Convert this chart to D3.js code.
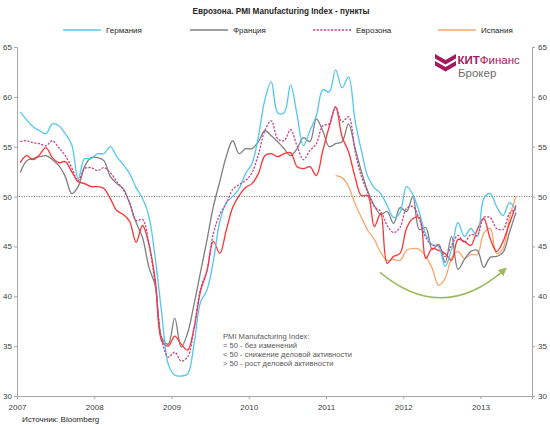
<!DOCTYPE html>
<html><head><meta charset="utf-8">
<script src="https://cdn.jsdelivr.net/npm/d3@7/dist/d3.min.js"></script>
<style>
html,body{margin:0;padding:0;background:#fff;}
svg{display:block;font-family:"Liberation Sans",Arial,sans-serif;}
</style></head>
<body>
<svg id="chart" width="550" height="425"></svg>
<script>
// ---- data: monthly PMI, Jan 2007 .. Jun 2013 (78 months) ----
const yearLabels = ["2007","2008","2009","2010","2011","2012","2013"];
const yTicks = [30,35,40,45,50,55,60,65];
const germany = [58.5,57.7,57.0,56.6,56.3,57.3,57.1,56.3,55.2,51.8,
  53.8,53.8,54.3,54.3,55.0,54.0,53.2,52.3,50.9,49.8,
  48.0,43.7,38.2,33.2,32.1,32.0,32.2,35.2,39.4,40.6,
  43.5,47.5,49.4,50.0,50.8,52.3,53.3,56.0,59.7,61.5,
  58.4,58.4,61.2,58.2,55.1,56.6,58.1,60.7,60.5,62.7,
  60.9,62.0,57.7,54.6,52.0,50.9,50.3,49.1,47.9,48.4,
  51.0,50.2,48.4,46.2,45.2,45.0,43.0,44.7,47.4,46.0,
  46.8,46.0,49.8,50.3,49.0,48.1,49.4,48.6];
const france = [52.4,53.6,53.8,54.0,54.1,53.7,53.1,52.0,50.3,51.0,
  53.0,53.9,53.9,53.6,52.0,51.3,50.8,49.3,47.4,45.9,
  42.9,41.0,35.8,35.2,37.8,34.9,36.3,39.2,42.4,45.6,
  49.0,51.5,54.0,55.6,54.3,54.8,54.8,55.5,56.6,56.1,
  55.5,54.8,54.1,54.8,55.9,55.5,57.8,56.6,55.0,55.3,
  55.5,57.3,54.9,52.5,50.5,49.1,48.2,48.5,47.3,48.9,
  48.5,50.0,46.7,46.9,44.7,45.2,43.4,46.0,42.7,43.7,
  44.5,44.6,42.9,43.9,44.0,44.4,46.4,48.4];
const eurozone = [55.5,55.6,55.4,55.3,55.1,55.6,54.9,54.1,52.9,51.6,
  52.8,52.9,52.6,52.9,52.4,51.5,50.7,49.4,47.6,47.7,
  45.2,41.1,35.6,33.9,34.4,33.5,33.9,36.8,40.7,42.6,
  46.3,48.2,49.3,50.7,51.2,51.6,52.4,54.2,56.6,57.6,
  55.8,55.6,56.7,55.1,53.7,54.6,55.3,57.1,57.3,59.0,
  57.5,58.0,54.6,52.0,50.4,49.0,48.5,47.1,46.4,46.9,
  48.8,49.0,47.7,45.9,45.1,45.1,44.0,45.1,46.1,45.4,
  46.2,46.1,47.9,47.9,46.8,46.7,48.3,48.8];
const italy = [53.4,54.1,53.7,54.2,54.9,53.9,53.4,53.5,52.5,51.5,
  51.3,51.0,51.0,50.8,49.8,48.6,48.2,47.5,45.4,47.1,
  45.2,41.5,35.5,35.0,36.0,35.2,34.6,36.8,40.5,42.5,
  45.5,44.3,46.6,48.9,50.1,50.9,51.3,52.3,54.1,54.3,
  54.0,54.3,54.4,53.0,52.8,53.0,52.1,54.6,57.0,59.0,
  56.0,54.5,52.0,50.1,50.1,47.0,48.3,43.3,44.0,44.3,
  46.8,47.8,47.9,43.8,44.8,44.6,44.3,43.6,45.7,45.5,
  45.1,46.7,47.8,45.8,44.5,45.5,47.3,49.1];
const spain = [null,null,null,null,null,null,null,null,null,null,
  null,null,null,null,null,null,null,null,null,null,
  null,null,null,null,null,null,null,null,null,null,
  null,null,null,null,null,null,null,null,null,null,
  null,null,null,null,null,null,null,null,null,52.1,
  51.9,51.0,49.3,47.9,46.6,45.7,44.4,43.6,43.7,43.6,
  44.6,44.8,44.7,44.0,42.8,41.1,41.8,43.8,44.5,43.8,
  44.2,44.2,46.3,46.8,44.3,44.8,47.9,50.0];
const legendNames = ["Германия","Франция","Еврозона","Испания"];
const noteLines = ["PMI Manufacturing Index:","= 50 - без изменений","< 50 - снижение деловой активности","> 50 - рост деловой активности"];

const svg = d3.select("#chart");
const L = 17, R = 532, T = 47, B = 396;
const nSlots = 80;
const x = d3.scaleLinear().domain([0, nSlots]).range([L, R]);
const y = d3.scaleLinear().domain([30, 65]).range([B, T]);
const axisColor = "#a6a6a6", textColor = "#404040";
const font = 8;

// Title
svg.append("text").attr("x", 281).attr("y", 14).attr("text-anchor","middle")
  .attr("font-size", 8.2).attr("font-weight","bold").attr("fill","#262626")
  .text("Еврозона. PMI Manufacturing  Index - пункты");

// Axes
const yl = d3.axisLeft(y).tickValues(yTicks).tickSize(3).tickPadding(2);
const yr = d3.axisRight(y).tickValues(yTicks).tickSize(3).tickPadding(3);
const xb = d3.axisBottom(x).tickValues(d3.range(0, nSlots+1, 12)).tickSize(3).tickPadding(5)
  .tickFormat((d,i) => yearLabels[i] || "");
function styleAxis(g){
  g.selectAll("path,line").attr("stroke", axisColor);
  g.selectAll("text").attr("fill", textColor).attr("font-size", font)
    .attr("font-family","\"Liberation Sans\",Arial,sans-serif");
}
svg.append("g").attr("transform",`translate(${L},0)`).call(yl).call(styleAxis);
svg.append("g").attr("transform",`translate(${R},0)`).call(yr).call(styleAxis);
svg.append("g").attr("transform",`translate(0,${B})`).call(xb).call(styleAxis);

// 50 reference line
svg.append("line").attr("x1", x(0.3)).attr("x2", R).attr("y1", y(50)).attr("y2", y(50))
  .attr("stroke","#404040").attr("stroke-width",0.8).attr("stroke-dasharray","1,1.5");

// Lines
const line = d3.line().defined(d => d != null)
  .x((d,i) => x(i + 0.5)).y(d => y(d)).curve(d3.curveCatmullRom.alpha(0.5));
const series = [
  {data: spain,    color:"#f9a76c", dash:null},
  {data: france,   color:"#7f7f7f", dash:null},
  {data: italy,    color:"#ff3333", dash:null},
  {data: germany,  color:"#55c6f0", dash:null},
  {data: eurozone, color:"#c2478a", dash:"2.2,1.4"}
];
series.forEach(s => {
  svg.append("path").attr("d", line(s.data)).attr("fill","none")
    .attr("stroke", s.color).attr("stroke-width",1.3)
    .attr("stroke-dasharray", s.dash);
});

// Legend
const legendItems = [
  {name: legendNames[0], color:"#55c6f0", dash:null, x:63},
  {name: legendNames[1], color:"#7f7f7f", dash:null, x:190},
  {name: legendNames[2], color:"#c2478a", dash:"2.2,1.4", x:313},
  {name: legendNames[3], color:"#f9a76c", dash:null, x:438}
];
legendItems.forEach(d => {
  svg.append("line").attr("x1", d.x).attr("x2", d.x+38).attr("y1",30).attr("y2",30)
    .attr("stroke", d.color).attr("stroke-width",1.3).attr("stroke-dasharray", d.dash);
  svg.append("text").attr("x", d.x+43).attr("y",33).attr("font-size",font)
    .attr("fill","#262626").text(d.name);
});

// Note text
const note = svg.append("text").attr("x", 223).attr("y", 338.5)
  .attr("font-size", 7.6).attr("fill","#595959");
noteLines.forEach((t,i) => note.append("tspan").attr("x",223).attr("dy", i ? 9 : 0).text(t));

// Source
svg.append("text").attr("x",22).attr("y",422).attr("font-size",font).attr("fill","#262626")
  .text("Источник: Bloomberg");

// Green arrow arc (annotation, in data coordinates)
const arcStart = [56.4, 42.4], arcCtrl = [66.0, 37.2], arcEnd = [75.6, 42.6];
const defs = svg.append("defs");
defs.append("marker").attr("id","ah").attr("viewBox","0 0 10 10").attr("refX",5).attr("refY",5)
  .attr("markerWidth",6).attr("markerHeight",6).attr("orient","auto")
  .append("path").attr("d","M0,0 L10,5 L0,10 z").attr("fill","#9bbb59");
svg.append("path")
  .attr("d",`M${x(arcStart[0])},${y(arcStart[1])} Q${x(arcCtrl[0])},${y(arcCtrl[1])} ${x(arcEnd[0])},${y(arcEnd[1])}`)
  .attr("fill","none").attr("stroke","#9bbb59").attr("stroke-width",1.4)
  .attr("marker-end","url(#ah)");

// Logo
const logo = svg.append("g");
const maroon = "#a3195b";
[0, 7].forEach(dy => {
  logo.append("path")
    .attr("d",`M435,${54+dy} L445.5,${60+dy} L456,${54+dy} L456,${58.5+dy} L445.5,${64.5+dy} L435,${58.5+dy} Z`)
    .attr("fill", maroon);
});
const lt = logo.append("text").attr("x",457.5).attr("y",63.5).attr("font-size",11.5).attr("fill",maroon);
lt.append("tspan").attr("font-weight","bold").text("КИТ");
lt.append("tspan").text("Финанс");
logo.append("text").attr("x",458).attr("y",76.5).attr("font-size",11.5).attr("fill","#6d6d6d").text("Брокер");
</script>
</body></html>
